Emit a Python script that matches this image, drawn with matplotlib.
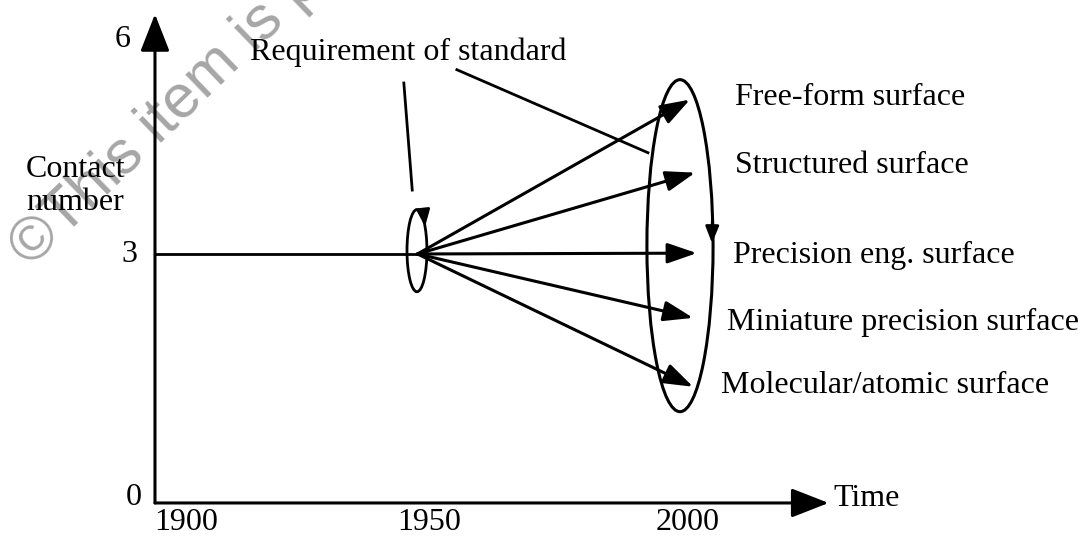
import matplotlib.pyplot as plt
from matplotlib.patches import Ellipse

# Data (x in years, y in contact number)
year_ticks = [1900, 1950, 2000]
contact_ticks = [0, 3, 6]
contact_tick_pos = [0.06, 2.99, 5.58]     # the "6" sits a bit under the arrow tip
branch_start = (1950, 3.0)
branch_labels = [
    "Free-form surface",
    "Structured surface",
    "Precision eng. surface",
    "Miniature precision surface",
    "Molecular/atomic surface",
]
branch_end_x = [2001.9, 2002.9, 2003.2, 2002.5, 2002.5]
branch_end_y = [4.86, 3.98, 3.01, 2.23, 1.40]
label_x = [2010.5, 2010.5, 2010.1, 2008.9, 2007.9]
label_y = [4.88, 4.06, 2.98, 2.17, 1.41]

plt.rcParams["font.family"] = ["Liberation Serif", "DejaVu Serif"]
FS = 23

fig = plt.figure(figsize=(10.82, 5.37), dpi=100)
ax = fig.add_axes([0, 0, 1, 1])
ax.set_xlim(1870.48, 2076.57)
ax.set_ylim(-0.41, 6.06)
ax.axis("off")
ax.patch.set_visible(False)

axis_head = dict(arrowstyle="-|>,head_length=2.3,head_width=0.9", color="black", lw=2.2,
                 shrinkA=0, shrinkB=0)
head = dict(arrowstyle="-|>,head_length=1.8,head_width=0.62", color="black", lw=2.2,
            shrinkA=0, shrinkB=0)
small_head = dict(arrowstyle="-|>,head_length=1.0,head_width=0.4", color="black", lw=2,
                  shrinkA=0, shrinkB=0)

# axes with arrow tips
ax.annotate("", xy=(1900, 5.89), xytext=(1900, 0), arrowprops=axis_head)
ax.annotate("", xy=(2028.3, 0), xytext=(1900, 0), arrowprops=axis_head)
ax.text(2029.2, 0.05, "Time", fontsize=FS, ha="left", va="center")

for pos, t, xr in zip(contact_tick_pos, contact_ticks, [1897.5, 1896.6, 1895.4]):
    ax.text(xr, pos, str(t), fontsize=FS, ha="right", va="center")
for yr, xc in zip(year_ticks, [1906, 1952.3, 2001.5]):
    ax.text(xc, -0.24, str(yr), fontsize=FS, ha="center", va="center")

ax.text(1875.4, 3.82, "Contact\nnumber", fontsize=FS, ha="left", va="center",
        linespacing=1.15)

# baseline up to 1950
ax.plot([1900, branch_start[0]], [3.0, 3.0], color="black", lw=2)

# branching arrows
for ex, ey in zip(branch_end_x, branch_end_y):
    ax.annotate("", xy=(ex, ey), xytext=branch_start, arrowprops=head)

for lab, lx, ly in zip(branch_labels, label_x, label_y):
    ax.text(lx, ly, lab, fontsize=FS, ha="left", va="center")

# ellipses
ax.add_patch(Ellipse((1949.9, 3.04), 3.8, 0.99, fill=False, lw=2, color="black"))
ax.add_patch(Ellipse((2000, 3.10), 12.6, 4.0, fill=False, lw=2.2, color="black"))
ax.annotate("", xy=(2006.1, 3.13), xytext=(2006.15, 3.40), arrowprops=small_head)
ax.annotate("", xy=(1951.45, 3.33), xytext=(1951.2, 3.47), arrowprops=small_head)

# requirement label and leader lines
ax.text(1918.1, 5.43, "Requirement of standard", fontsize=FS, ha="left", va="center")
ax.plot([1947.4, 1949.0], [5.06, 3.77], color="black", lw=2)
ax.plot([1957.5, 1993.9], [5.22, 4.22], color="black", lw=2)

# watermark, behind the drawing
fig.text(0.0287, 0.499, "\u00a9This item is protected by copyright", fontsize=44,
         rotation=44, color="#a6a6a6", ha="left", va="baseline",
         rotation_mode="anchor", family=["Liberation Sans", "DejaVu Sans"], zorder=-1)

fig.savefig("out.png", dpi=100)
